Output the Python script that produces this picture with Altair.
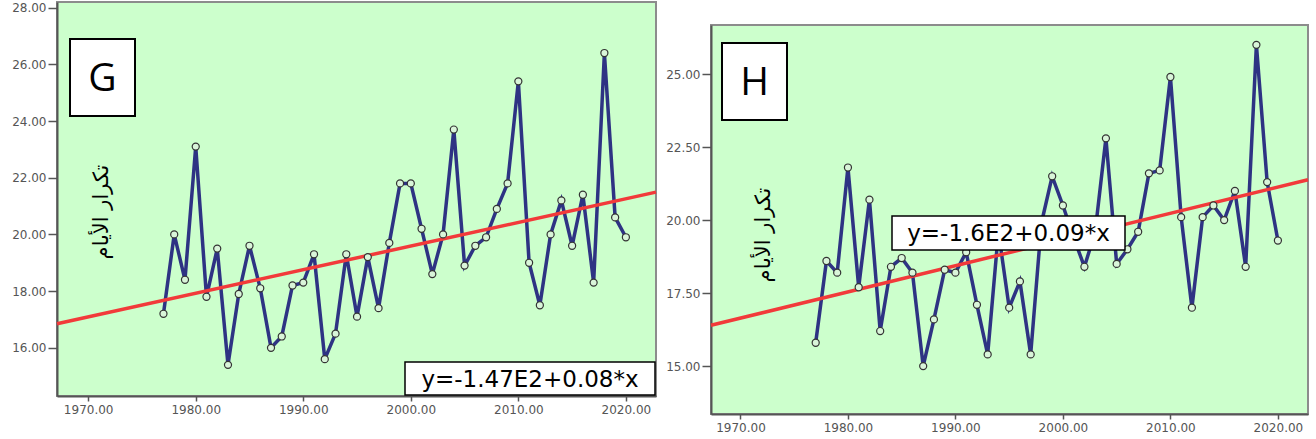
import altair as alt
import pandas as pd

years = list(range(1977, 2021))

g_values = [17.2, 20.0, 18.4, 23.1, 17.8, 19.5, 15.4, 17.9, 19.6, 18.1, 16.0, 16.4,
            18.2, 18.3, 19.3, 15.6, 16.5, 19.3, 17.1, 19.2, 17.4, 19.7, 21.8, 21.8,
            20.2, 18.6, 20.0, 23.7, 18.9, 19.6, 19.9, 20.9, 21.8, 25.4, 19.0, 17.5,
            20.0, 21.2, 19.6, 21.4, 18.3, 26.4, 20.6, 19.9]

h_values = [15.8, 18.6, 18.2, 21.8, 17.7, 20.7, 16.2, 18.4, 18.7, 18.2, 15.0, 16.6,
            18.3, 18.2, 18.9, 17.1, 15.4, 19.6, 17.0, 17.9, 15.4, 19.9, 21.5, 20.5,
            19.4, 18.4, 19.6, 22.8, 18.5, 19.0, 19.6, 21.6, 21.7, 24.9, 20.1, 17.0,
            20.1, 20.5, 20.0, 21.0, 18.4, 26.0, 21.3, 19.3]

x_ticks = [1970, 1980, 1990, 2000, 2010, 2020]
g_y_ticks = [16, 18, 20, 22, 24, 26, 28]
h_y_ticks = [15, 17.5, 20, 22.5, 25]

g_letter = "G"
h_letter = "H"
g_equation = "y=-1.47E2+0.08*x"
h_equation = "y=-1.6E2+0.09*x"
y_label = "تكرار الأيام"

BLUE = "#2e3383"
RED = "#f23a3a"
PANEL_VIEW = alt.ViewBackground(fill="#ccffcc", stroke="#8c8c8c", strokeWidth=2)


def panel(vals, letter, eq, xdom, ydom, yticks, w, h, lbox, ebox, arabic_xy):
    df = pd.DataFrame({"year": years, "value": vals})
    base = alt.Chart(df)
    x = alt.X("year:Q", scale=alt.Scale(domain=xdom, nice=False, zero=False),
              axis=alt.Axis(values=x_ticks, format=".2f", title=None, grid=False, labelFlush=False))
    y = alt.Y("value:Q", scale=alt.Scale(domain=ydom, nice=False, zero=False),
              axis=alt.Axis(values=yticks, format=".2f", title=None, grid=False))
    line = base.mark_line(color=BLUE, strokeWidth=3.5).encode(x=x, y=y)
    reg = base.transform_regression("year", "value", extent=xdom).mark_line(
        color=RED, strokeWidth=3.5).encode(x=x, y=y)
    pts = base.mark_point(shape="circle", fill="#d9f5d9", stroke="#333333", strokeWidth=1.2,
                          size=50, opacity=1, fillOpacity=1).encode(x=x, y=y)

    ann = alt.Chart(pd.DataFrame({"t": [letter], "e": [eq], "a": [y_label]}))
    lrect = ann.mark_rect(fill="white", stroke="black", strokeWidth=2).encode(
        x=alt.value(lbox[0]), x2=alt.value(lbox[1]), y=alt.value(lbox[2]), y2=alt.value(lbox[3]))
    ltext = ann.mark_text(font="Open Sans", fontSize=39, color="black", align="center",
                          baseline="middle").encode(
        x=alt.value((lbox[0] + lbox[1]) / 2), y=alt.value((lbox[2] + lbox[3]) / 2 + 1), text="t:N")
    erect = ann.mark_rect(fill="white", stroke="black", strokeWidth=1.5).encode(
        x=alt.value(ebox[0]), x2=alt.value(ebox[1]), y=alt.value(ebox[2]), y2=alt.value(ebox[3]))
    etext = ann.mark_text(font="DejaVu Sans", fontSize=23, color="black", align="center",
                          baseline="middle").encode(
        x=alt.value((ebox[0] + ebox[1]) / 2), y=alt.value((ebox[2] + ebox[3]) / 2 + 1), text="e:N")
    atext = ann.mark_text(font="DejaVu Sans", fontSize=21, color="black", angle=270,
                          align="center", baseline="middle").encode(
        x=alt.value(arabic_xy[0]), y=alt.value(arabic_xy[1]), text="a:N")

    return alt.layer(line, reg, pts, atext, lrect, ltext, erect, etext).properties(
        width=w, height=h, view=PANEL_VIEW)


g_chart = panel(g_values, g_letter, g_equation, [1967.1, 2022.8], [14.3, 28.2], g_y_ticks,
                599, 394, (13, 78, 37, 114), (348, 598, 360, 393), (45, 210))
h_chart = panel(h_values, h_letter, h_equation, [1967.26, 2022.8], [13.36, 26.68], h_y_ticks,
                597, 389, (11, 76, 18, 95), (181, 414, 191, 225), (53, 210))

spacer = alt.Chart(pd.DataFrame({"s": [0]})).mark_rect(opacity=0).encode(
    x=alt.value(0), x2=alt.value(1), y=alt.value(0), y2=alt.value(1)
).properties(width=597, height=1,
             view=alt.ViewBackground(fill="transparent", stroke="transparent"))

right = alt.vconcat(spacer, h_chart, spacing=20)

chart = alt.hconcat(g_chart, right, spacing=0).properties(
    padding={"left": 10, "top": 0, "right": 0, "bottom": 0}, background="white"
).configure_axis(
    labelFont="DejaVu Sans", labelFontSize=12, labelColor="#555555",
    tickColor="#555555", domainColor="#555555", domainWidth=2, tickWidth=1.5
).configure_axisY(
    tickSize=9, labelPadding=2
).configure_axisX(
    tickSize=5, labelPadding=3
)

chart.save("out.html", embed_options={"renderer": "svg", "actions": False})
